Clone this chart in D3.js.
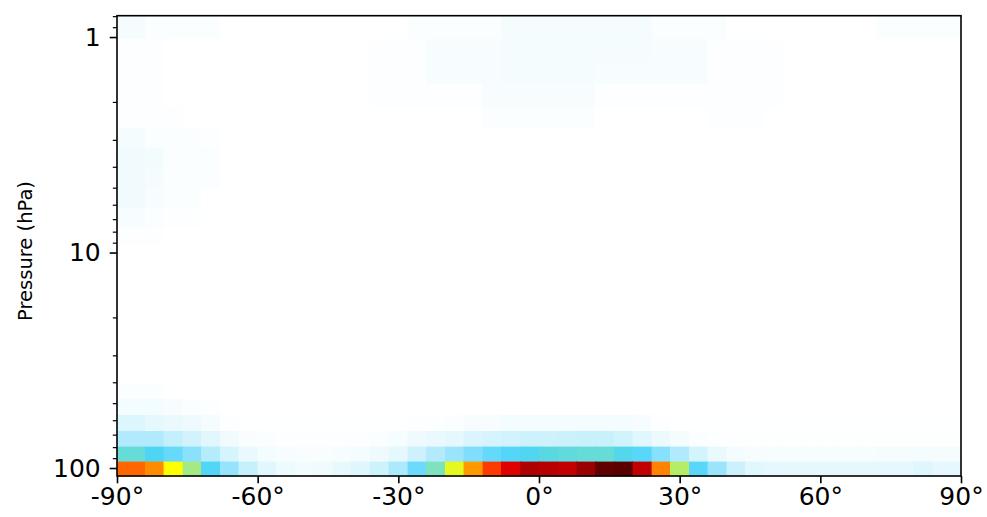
<!DOCTYPE html>
<html>
<head>
<meta charset="utf-8">
<script src="https://cdn.jsdelivr.net/npm/d3@7"></script>
<style>
  html, body { margin: 0; padding: 0; background: #ffffff; }
  svg { display: block; }
  text { font-family: "DejaVu Sans", sans-serif; fill: #000; }
</style>
</head>
<body>
<svg id="chart" width="987" height="517"></svg>
<script>
// ---------------- data ----------------
// latitude bin edges (degrees)
const latEdges = [-90, -84, -80, -76, -72, -68, -64, -60, -56, -52, -48, -44, -40, -36, -32, -28, -24, -20, -16, -12, -8, -4, 0,
                  4, 8, 12, 16, 20, 24, 28, 32, 36, 40, 44, 48, 52, 56, 60, 64, 68, 72, 76, 80, 84, 90];
// pressure bin edges (hPa), top to bottom
const pressureEdges = [0.796, 1.016, 1.299, 1.652, 2.106, 2.653, 3.265, 4.042, 5.036, 6.236, 7.670, 9.230,
                       11.22, 13.60, 16.40, 19.71, 23.63, 28.34, 33.92, 40.45, 48.00, 56.77, 67.36, 79.62, 93.50, 108.9];
// x tick values and labels
const xTickValues = [-90, -60, -30, 0, 30, 60, 90];
const xTickLabels = ["-90°", "-60°", "-30°", "0°", "30°", "60°", "90°"];
// y tick values
const yMajorTicks = [1, 10, 100];
const yMinorTicks = [0.8, 0.9, 2, 3, 4, 5, 6, 7, 8, 9, 20, 30, 40, 50, 60, 70, 80, 90];
const yLabel = "Pressure (hPa)";

// cell values (relative units, 0-100), one row per pressure bin (top to bottom), 44 latitude bins each
const z = [];
const zero = n => new Array(n).fill(0);
const row00 = [3.6,2,2,2,2, 0,0,0,0,0, 0,0,0,0,0, 1.6,1.6,1.6,1.6,1.6, 3.6,3.6,3.6,3.6,3.6,3.6,3.6,3.6, 1.6,1.6,1.6,1.6, 0,0,0,0,0,0,0,0, 1.6,1.6,1.6,1.6];
const row01 = [1.2,1.2, 0,0,0,0,0,0,0,0,0,0,0, 1.2,1.2,1.2, 2.8,2.8,2.8,2.8, 4,4,4,4,4,4,4,4, 2.8,2.8,2.8, 1.2,1.2,1.2,1.2, 0,0,0,0,0,0,0,0,0];
const row02 = [1.2,1.2, 0,0,0,0,0,0,0,0,0,0,0, 1.2,1.2,1.2, 2.8,2.8,2.8,2.8, 4,4,4,4,4, 2.8,2.8,2.8,2.8,2.8,2.8, 1.2,1.2,1.2,1.2, 0,0,0,0,0,0,0,0,0];
const row03 = [1.2,1.2, 0,0,0,0,0,0,0,0,0,0,0, 1.2,1.2,1.2,1.2,1.2,1.2, 2.8,2.8,2.8,2.8,2.8,2.8, 1.2,1.2,1.2,1.2,1.2,1.2,1.2,1.2,1.2,1.2, 0,0,0,0,0,0,0,0,0];
const row04 = [1.2,1.2,1.2, 0,0,0,0,0,0,0,0,0,0,0,0,0,0,0,0, 1.6,1.6,1.6,1.6,1.6,1.6, 0,0,0,0,0,0, 1.2,1.2,1.2, 0,0,0,0,0,0,0,0,0,0];
const row05 = [3.6,1.6,1.6,1.6,0.8, 0,0,0,0,0,0,0,0,0,0,0,0,0,0,0,0,0,0,0,0,0,0,0,0,0,0,0,0,0,0,0,0,0,0,0,0,0,0,0];
const row06 = [5,4.5,1.8,1.8,1.8, 0,0,0,0,0,0,0,0,0,0,0,0,0,0,0,0,0,0,0,0,0,0,0,0,0,0,0,0,0,0,0,0,0,0,0,0,0,0,0];
const row07 = [5,3.6,1.6,1.6,1.6, 0,0,0,0,0,0,0,0,0,0,0,0,0,0,0,0,0,0,0,0,0,0,0,0,0,0,0,0,0,0,0,0,0,0,0,0,0,0,0];
const row08 = [5,2.8,1.6,1.6, 0,0,0,0,0,0,0,0,0,0,0,0,0,0,0,0,0,0,0,0,0,0,0,0,0,0,0,0,0,0,0,0,0,0,0,0,0,0,0,0];
const row09 = [2.8,1.6,1.2,1.2, 0,0,0,0,0,0,0,0,0,0,0,0,0,0,0,0,0,0,0,0,0,0,0,0,0,0,0,0,0,0,0,0,0,0,0,0,0,0,0,0];
const row10 = [1.2,1.2, 0,0,0,0,0,0,0,0,0,0,0,0,0,0,0,0,0,0,0,0,0,0,0,0,0,0,0,0,0,0,0,0,0,0,0,0,0,0,0,0,0,0];
const row11 = zero(44), row12 = zero(44), row13 = zero(44), row14 = zero(44),
      row15 = zero(44), row16 = zero(44), row17 = zero(44), row18 = zero(44);
const row19 = [1.6,1.6, 0,0,0,0,0,0,0,0,0,0,0,0,0,0,0,0,0,0,0,0,0,0,0,0,0,0,0,0,0,0,0,0,0,0,0,0,0,0,0,0,0,0];
const row20 = [4.3,4.3,2.8,2,1.2, 0,0,0,0,0,0,0,0,0,0,0,0,0,0,0,0,0,0,0,0,0,0,0,0,0,0,0,0,0,0,0,0,0,0,0,0,0,0,0];
const row21 = [10.5,8.5,7.2,5.8,4,1.2, 0.3,0.3,0.3,0.3,0.3,0.3,0.3,0.3,0.3, 0.8,1.2,2,2.8,3, 4.3,4.3,4.3,4.3,4.3,4.3,4.3, 2.8,1.2,
               0.4,0.4,0.4,0.4,0.4,0.4,0.4,0.4,0.4,0.4,0.4,0.4,0.4,0.4,0.4];
const row22 = [20.5,20.5,16.5,13,9,4.8,2.3,1.6, 0.8,0.8,0.8,0.8,0.8,
               1.5,3.2,5.8,7.2,8.5,11,12,13,14.5,14.3,14.7,15.3,15.3,13.3,9.5,6.2,3.6,1.6,0.8,
               0.6,0.6,0.6,0.6,0.6,0.6,0.6,0.6,0.6,0.6,0.6,0.6];
const row23 = [47.5,40,34,28,19.5,12,7,4.3,3,2.3,2.3,3,4.3,5.8,8.5,14,20,25,30,34.5,38,40.5,44,46,47.5,47.5,42,36.5,28.5,20.5,12.5,7,4.3,2.8,
               3,3,3,3,3.2,3.2,3.5,3.5,4,3.8];
const row24 = [80,76,68,56,39,26,16,9,6,4.5, 5,7.5,10,14.5,21.5,33,52,64,75,84, 88,93,92,91,95,99.5,100,91,77,58.5,
               36.5,25,15,9.5,8,7.8,7.8,7.8,7.8,7.8, 8,8,10,8];
z.push(row00,row01,row02,row03,row04,row05,row06,row07,row08,row09,row10,row11,row12,
       row13,row14,row15,row16,row17,row18,row19,row20,row21,row22,row23,row24);

// colour map stops (value -> colour)
const cmapStops  = [0, 4, 8, 12, 16, 20, 24, 28, 32, 36, 40, 44, 48, 52, 56, 60, 64, 68, 72, 76, 80, 84, 88, 92, 96, 100];
const cmapColors = ["#ffffff","#f4fcfe","#e6f8fd","#d6f4fd","#c6f0fc","#b3ebfc","#9fe6fc","#8ae1fc","#72dbfc","#5ad7fc",
                    "#4fd5f4","#5ad8e2","#66dcd6","#7ee3bd","#a3ea84","#c0ef55","#e6f91f","#ffff00","#ffc000","#ff8c00",
                    "#ff6600","#ff3a00","#e00000","#b80000","#900000","#5a0000"];

// ---------------- layout ----------------
const plotLeft = 117, plotRight = 961, plotTop = 15.7, plotBottom = 476;
const svg = d3.select("#chart");

const x = d3.scaleLinear().domain([-90, 90]).range([plotLeft, plotRight]);
const y = d3.scaleLog().domain([pressureEdges[0], pressureEdges[pressureEdges.length - 1]]).range([plotTop, plotBottom]);
const color = d3.scaleLinear().domain(cmapStops).range(cmapColors).interpolate(d3.interpolateRgb).clamp(true);

const cells = [];
z.forEach((row, i) => row.forEach((v, j) => cells.push({i, j, v})));

svg.append("g").selectAll("rect").data(cells).join("rect")
  .attr("x", d => x(latEdges[d.j]))
  .attr("width", d => x(latEdges[d.j + 1]) - x(latEdges[d.j]))
  .attr("y", d => y(pressureEdges[d.i]))
  .attr("height", d => y(pressureEdges[d.i + 1]) - y(pressureEdges[d.i]))
  .attr("fill", d => color(d.v))
  .attr("stroke", d => color(d.v))
  .attr("stroke-width", 0.4)
  .attr("shape-rendering", "crispEdges");

// axes
const fontSize = 25;
const xAxis = svg.append("g").attr("transform", `translate(0,${plotBottom})`)
  .call(d3.axisBottom(x).tickValues(xTickValues).tickFormat((d, i) => xTickLabels[i])
        .tickSize(7.3).tickSizeOuter(0).tickPadding(4));
xAxis.select(".domain").remove();
xAxis.selectAll("line").attr("stroke", "#000").attr("stroke-width", 1.6);
xAxis.selectAll("text").attr("font-size", fontSize).attr("font-family", "DejaVu Sans");

const yAxis = svg.append("g").attr("transform", `translate(${plotLeft},0)`)
  .call(d3.axisLeft(y).tickValues(yMajorTicks).tickFormat(d3.format("d"))
        .tickSize(7.3).tickSizeOuter(0).tickPadding(9));
yAxis.select(".domain").remove();
yAxis.selectAll("line").attr("stroke", "#000").attr("stroke-width", 1.6);
yAxis.selectAll("text").attr("font-size", fontSize).attr("font-family", "DejaVu Sans");

const yMinor = svg.append("g").attr("transform", `translate(${plotLeft},0)`)
  .call(d3.axisLeft(y).tickValues(yMinorTicks).tickFormat("").tickSize(4.2).tickSizeOuter(0));
yMinor.select(".domain").remove();
yMinor.selectAll("line").attr("stroke", "#000").attr("stroke-width", 1.2);

// frame
svg.append("rect")
  .attr("x", plotLeft).attr("y", plotTop)
  .attr("width", plotRight - plotLeft).attr("height", plotBottom - plotTop)
  .attr("fill", "none").attr("stroke", "#000").attr("stroke-width", 1.6);

// y label
svg.append("text")
  .attr("transform", `translate(25,251) rotate(-90)`)
  .attr("text-anchor", "middle").attr("dominant-baseline", "central")
  .attr("font-size", 19.5)
  .text(yLabel);
</script>
</body>
</html>
